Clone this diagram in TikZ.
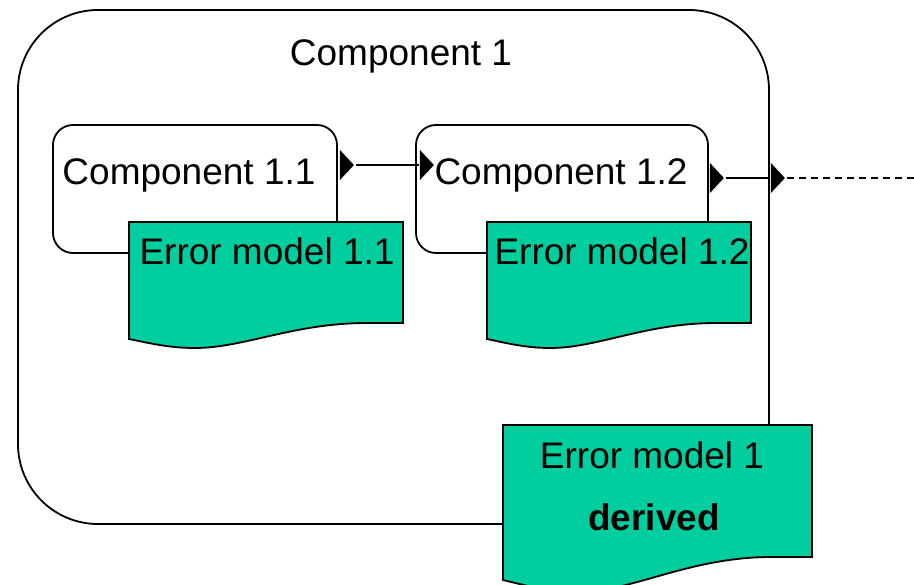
\documentclass[tikz,border=0pt]{standalone}
\usepackage{fontspec}
\setmainfont{Liberation Sans}
\usetikzlibrary{shapes.geometric}
\definecolor{errfill}{RGB}{0,206,158}

% Error-model "document" shape: left, top, right, bottom at the left,
% lowest point of the wave, bottom at the right
\newcommand\errshape[6]{%
  \filldraw[errbox]
    (#1,#2) -- (#3,#2) -- (#3,#6)
    -- ({#1+0.87*(#3-#1)},#6)
    .. controls ({#1+0.6*(#3-#1)},#6) and ({#1+0.42*(#3-#1)},#5) .. ({#1+0.24*(#3-#1)},#5)
    .. controls ({#1+0.15*(#3-#1)},#5) and ({#1+0.08*(#3-#1)},{#4+0.5*(#5-#4)}) .. (#1,#4)
    -- cycle;}

\begin{document}
\begin{tikzpicture}[x=1pt,y=-1pt,
  line width=1.8pt,
  lbl/.style={font=\fontsize{37}{44}\selectfont, inner sep=0pt, anchor=base},
  compbox/.style={draw, fill=white, rounded corners=20pt, inner sep=0pt},
  errbox/.style={draw=black, fill=errfill},
  port/.style={isosceles triangle, shape border rotate=0, isosceles triangle stretches,
    minimum height=14pt, minimum width=30pt, inner sep=0pt, fill=black, draw=none, anchor=west},
  wire/.style={line width=1.8pt},
]
\useasboundingbox (0,0) rectangle (914,585);
\begin{scope}
\clip (0,0) rectangle (914,585);

% Outer component
\node[compbox, rounded corners=80pt, minimum width=751pt, minimum height=514pt] (c1) at (393.5,267) {};
\node[lbl] (c1t) at (401,66) {Component 1};

% Inner components
\node[compbox, minimum width=284pt, minimum height=128pt] (c11) at (195,189) {};
\node[compbox, minimum width=292pt, minimum height=128pt] (c12) at (562,189) {};
\node[lbl] (c11t) at (189,185) {Component 1.1};
\node[lbl] (c12t) at (561,185) {Component 1.2};

% Error models
\errshape{129}{222}{403}{339}{348}{323}
\node[lbl] (e11t) at (267,265) {Error model 1.1};
\errshape{487}{222}{751}{339}{348}{323}
\node[lbl] (e12t) at (622,265) {Error model 1.2};
\errshape{503}{425}{812}{580}{592}{557}
\node[lbl] (e1t) at (652,468) {Error model 1};
\node[lbl, font=\fontsize{37}{44}\selectfont\bfseries] (e1d) at (654,530) {derived};

% Ports
\node[port] (p11) at (339,165) {};
\node[port] (p12in) at (419,165) {};
\node[port] (p12out) at (709,178) {};
\node[port] (p1out) at (770,178) {};
\coordinate (farend) at (914,178);

% Connectors
\draw[wire] (p11.apex) -- (p12in.west);
\draw[wire] (p12out.apex) -- (p1out.west);
\draw[wire, dash pattern=on 7pt off 5pt] (p1out.apex) -- (farend);
\end{scope}
\end{tikzpicture}
\end{document}
